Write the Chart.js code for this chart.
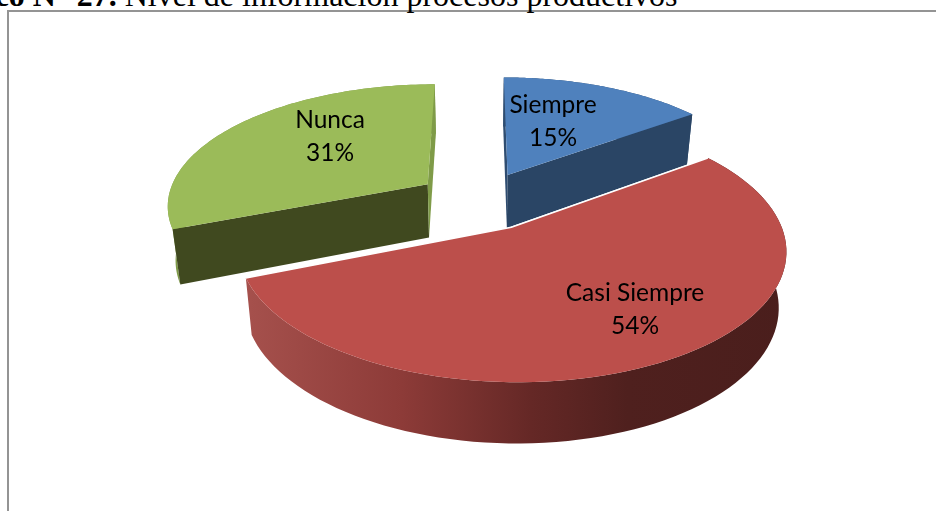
<!DOCTYPE html>
<html><head><meta charset="utf-8">
<script src="https://cdn.jsdelivr.net/npm/chart.js@4"></script>
<style>
html,body{margin:0;padding:0;width:936px;height:511px;overflow:hidden;background:#fff}
#frame{position:absolute;left:7px;top:10px;width:1000px;height:600px;border-left:2px solid #949494;border-top:2px solid #949494}
#cap{position:absolute;left:-80px;top:-23.5px;white-space:nowrap;font:32px "Liberation Serif",serif;color:#000}
canvas{position:absolute;left:0;top:0}
</style></head><body>
<div id="frame"></div>
<div id="cap"><b>Gráfico N° 27.</b> Nivel de información procesos productivos</div>
<canvas id="c" width="936" height="511"></canvas>
<script>
const categories = ["Siempre", "Casi Siempre", "Nunca"];
const percentages = [15, 54, 31];
const topColors = ["#4f81bd", "#bc4f4b", "#9bbb59"];
const cutColors = ["#2a4565", "#4e1f1d", "#40491f"];
const sideColors = ["#2f4d71", "#7f9b48", "#7f9b48"];
const labelSpots = [[553,105],[635,293],[330,120]];

const P = {xc:479.5, yc:200.4, rx:261, ry:120.6, p:0.16, e:0.245, shrink:0.975};
function project(u,v){
  const s = 1/(1-P.p*v);
  return {x:P.xc+P.rx*u*s, y:P.yc+P.ry*v*s, s};
}
function lower(pt){
  return {x:P.xc+(pt.x-P.xc)*P.shrink, y:pt.y+24+30*pt.s};
}
function path(ctx,pts){
  ctx.beginPath();
  pts.forEach((q,i)=> i?ctx.lineTo(q.x,q.y):ctx.moveTo(q.x,q.y));
  ctx.closePath();
}
const pie3d = {
  id:'pie3d',
  beforeDatasetsDraw(chart){
    const ctx = chart.ctx, arcs = chart.getDatasetMeta(0).data;
    const draw = i=>{
      const a = arcs[i];
      const t0 = a.startAngle+Math.PI/2, t1 = a.endAngle+Math.PI/2, mid=(t0+t1)/2;
      const u0 = P.e*Math.sin(mid), v0 = -P.e*Math.cos(mid);
      const rim=[];
      const n=90;
      for(let k=0;k<=n;k++){
        const t=t0+(t1-t0)*k/n;
        rim.push(project(u0+Math.sin(t), v0-Math.cos(t)));
      }
      const tip=project(u0,v0);
      const rimLow=rim.map(lower), tipLow=lower(tip);
      let fill=sideColors[i];
      if(i===1){
        const g=ctx.createLinearGradient(250,0,790,0);
        g.addColorStop(0,'#a5504c');
        g.addColorStop(0.28,'#8d3b38');
        g.addColorStop(0.52,'#652826');
        g.addColorStop(0.70,'#4f201e');
        g.addColorStop(1,'#4a1e1c');
        fill=g;
      }
      ctx.fillStyle=fill;
      path(ctx,rim.concat(rimLow.slice().reverse())); ctx.fill();
      const first=rim[0], last=rim[n], firstLow=rimLow[0], lastLow=rimLow[n];
      if(i===0){
        ctx.fillStyle=sideColors[0]; path(ctx,[first,firstLow,tipLow,tip]); ctx.fill();
        ctx.fillStyle=cutColors[0]; path(ctx,[tip,tipLow,lastLow,last]); ctx.fill();
      } else if(i===2){
        ctx.fillStyle=cutColors[2]; path(ctx,[first,firstLow,tipLow,tip]); ctx.fill();
        ctx.fillStyle=sideColors[2]; path(ctx,[tip,tipLow,lastLow,last]); ctx.fill();
      }
      ctx.fillStyle=topColors[i];
      path(ctx,[tip].concat(rim)); ctx.fill();
      if(i===1){
        ctx.strokeStyle='#fff'; ctx.lineWidth=1.5;
        ctx.beginPath(); ctx.moveTo(first.x,first.y); ctx.lineTo(tip.x,tip.y); ctx.lineTo(last.x,last.y); ctx.stroke();
      }
    };
    draw(0); draw(2); draw(1);
    ctx.save();
    ctx.fillStyle='#000';
    ctx.font='24.5px Lato';
    ctx.textAlign='center'; ctx.textBaseline='middle';
    categories.forEach((c,i)=>{
      ctx.fillText(c,labelSpots[i][0],labelSpots[i][1]);
      ctx.fillText(percentages[i]+'%',labelSpots[i][0],labelSpots[i][1]+33);
    });
    ctx.restore();
    return false;
  }
};
new Chart(document.getElementById('c'),{
  type:'pie',
  data:{labels:categories,datasets:[{data:percentages,backgroundColor:topColors,borderWidth:0}]},
  options:{responsive:false,animation:false,rotation:0,
    plugins:{legend:{display:false},title:{display:false},tooltip:{enabled:false}}},
  plugins:[pie3d]
});
</script>
</body></html>
